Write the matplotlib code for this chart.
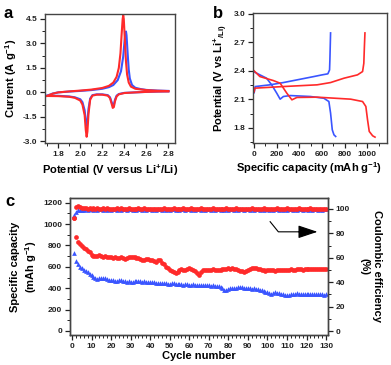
import matplotlib
matplotlib.use("Agg")
import matplotlib.pyplot as plt
from matplotlib.ticker import MultipleLocator
import numpy as np

plt.rcParams['font.family'] = ['Liberation Sans', 'DejaVu Sans']
plt.rcParams['font.weight'] = 'bold'
plt.rcParams['mathtext.fontset'] = 'custom'
plt.rcParams['mathtext.rm'] = 'Liberation Sans:bold'
plt.rcParams['mathtext.it'] = 'Liberation Sans:bold'
plt.rcParams['mathtext.bf'] = 'Liberation Sans:bold'
plt.rcParams['mathtext.default'] = 'rm'

RED = '#ff2a2a'
BLUE = '#3a55ff'

# ---------------- Panel a: CV ----------------
red_an_V = [1.70, 1.75, 1.80, 1.90, 2.00, 2.10, 2.20, 2.26, 2.30, 2.33, 2.35, 2.365, 2.375,
            2.385, 2.39, 2.395, 2.405, 2.415, 2.425, 2.44, 2.46, 2.50, 2.60, 2.70, 2.80]
red_an_I = [-0.22, -0.08, 0.0, 0.06, 0.11, 0.17, 0.27, 0.40, 0.60, 0.95, 1.5, 2.4, 3.5,
            4.5, 4.72, 4.5, 3.2, 1.9, 1.1, 0.6, 0.35, 0.22, 0.14, 0.10, 0.08]
blue_an_V = [1.70, 1.75, 1.80, 1.90, 2.00, 2.10, 2.20, 2.26, 2.30, 2.34, 2.37, 2.39, 2.40,
             2.41, 2.415, 2.42, 2.43, 2.44, 2.45, 2.47, 2.50, 2.55, 2.60, 2.70, 2.80]
blue_an_I = [-0.20, -0.07, 0.0, 0.05, 0.09, 0.14, 0.22, 0.32, 0.45, 0.75, 1.3, 2.2, 3.0,
             3.6, 3.73, 3.5, 2.4, 1.4, 0.85, 0.45, 0.28, 0.20, 0.15, 0.11, 0.09]
cath_V = [2.80, 2.70, 2.60, 2.50, 2.40, 2.35, 2.33, 2.315, 2.305, 2.295, 2.285, 2.27, 2.25,
          2.20, 2.15, 2.11, 2.09, 2.075, 2.065, 2.058, 2.05, 2.04, 2.02, 2.00, 1.95, 1.90,
          1.80, 1.70]
red_cath_I = [0.06, 0.05, 0.03, 0.0, -0.04, -0.12, -0.25, -0.55, -0.9, -0.95, -0.7, -0.35,
              -0.2, -0.14, -0.14, -0.2, -0.45, -1.3, -2.4, -2.72, -2.3, -1.4, -0.75, -0.5,
              -0.33, -0.27, -0.23, -0.22]
blue_cath_I = [0.06, 0.05, 0.03, 0.0, -0.03, -0.1, -0.2, -0.45, -0.75, -0.8, -0.6, -0.3,
               -0.17, -0.12, -0.12, -0.17, -0.38, -1.0, -1.8, -2.05, -1.75, -1.1, -0.6,
               -0.42, -0.3, -0.25, -0.21, -0.2]

# ---------------- Panel b: charge/discharge ----------------
blue_dis_cap = [0, 51, 110, 155, 200, 230, 259, 319, 497, 616, 661, 676, 691, 706, 721]
blue_dis_V = [2.39, 2.358, 2.323, 2.253, 2.165, 2.102, 2.13, 2.14, 2.13, 2.112, 2.077,
              1.955, 1.779, 1.726, 1.709]
blue_ch_cap = [0, 10, 140, 259, 408, 527, 601, 652, 667, 670, 676]
blue_ch_V = [2.17, 2.235, 2.253, 2.277, 2.312, 2.34, 2.358, 2.369, 2.41, 2.516, 2.80]
red_dis_cap = [0, 51, 170, 230, 289, 334, 378, 557, 854, 959, 988, 1003, 1018, 1048, 1069]
red_dis_V = [2.40, 2.34, 2.298, 2.27, 2.165, 2.095, 2.12, 2.123, 2.102, 2.077, 2.025,
             1.884, 1.762, 1.716, 1.702]
red_ch_cap = [0, 6, 259, 557, 676, 795, 914, 959, 970, 975, 980]
red_ch_V = [2.18, 2.218, 2.235, 2.253, 2.277, 2.323, 2.358, 2.393, 2.48, 2.65, 2.80]

# ---------------- Panel c: cycling ----------------
cycles = list(range(1, 131))
red_cap = [1060, 880, 830, 812, 795, 780, 765, 750, 735, 712,
           700, 698, 705, 708, 700, 692, 702, 695, 688, 692,
           685, 690, 684, 680, 688, 682, 676, 684, 690, 693,
           688, 692, 685, 678, 672, 668, 662, 670, 675, 668,
           660, 655, 648, 665, 660, 640, 622, 600, 585, 572,
           560, 548, 540, 552, 570, 578, 568, 572, 580, 585,
           578, 570, 560, 538, 525, 555, 568, 572, 570, 566,
           572, 575, 570, 568, 572, 574, 578, 582, 578, 585,
           580, 588, 582, 575, 572, 565, 560, 552, 565, 572,
           580, 588, 592, 585, 580, 576, 572, 568, 565, 568,
           570, 572, 568, 565, 570, 572, 568, 570, 572, 568,
           572, 575, 570, 572, 575, 578, 575, 572, 576, 578,
           580, 576, 578, 580, 582, 578, 580, 582, 580, 578]
blue_cap = [730, 650, 622, 603, 585, 570, 560, 548, 535, 522,
            508, 495, 488, 492, 498, 500, 495, 488, 480, 476,
            472, 470, 468, 472, 474, 470, 466, 462, 464, 458,
            462, 466, 470, 468, 464, 462, 466, 462, 458, 455,
            458, 454, 450, 452, 450, 446, 444, 446, 442, 440,
            444, 446, 442, 438, 440, 436, 434, 438, 436, 432,
            434, 436, 432, 428, 430, 432, 428, 426, 430, 428,
            424, 426, 422, 420, 418, 410, 398, 385, 382, 390,
            398, 402, 400, 404, 408, 412, 410, 406, 400, 398,
            402, 396, 398, 392, 388, 385, 380, 372, 365, 360,
            354, 350, 356, 360, 356, 352, 348, 342, 336, 334,
            338, 342, 346, 350, 352, 350, 348, 346, 348, 350,
            346, 344, 345, 346, 344, 342, 344, 342, 340, 342]
red_ce = [93.0, 102.0, 102.3, 101.8, 101.2, 100.8, 100.6, 100.4, 100.7, 100.3,
          100.5, 100.2, 100.6, 100.4, 100.1, 100.5, 100.3, 100.7, 100.2, 100.4,
          100.0, 100.3, 100.6, 100.2, 100.5, 100.1, 100.4, 100.3, 100.7, 100.2,
          100.4, 100.0, 100.3, 100.5, 100.1, 100.4, 100.6, 100.2, 100.3, 100.0,
          99.8, 99.6, 100.2, 100.4, 100.1, 100.3, 100.5, 100.2, 100.4, 100.1,
          100.3, 100.6, 100.2, 100.4, 100.0, 100.3, 100.5, 100.1, 100.4, 100.2,
          100.6, 100.3, 100.1, 100.4, 100.2, 100.5, 100.3, 100.1, 100.4, 100.2,
          100.3, 100.5, 100.1, 100.3, 100.4, 100.2, 100.0, 100.3, 100.5, 100.2,
          100.4, 100.1, 100.3, 100.5, 100.2, 100.4, 100.0, 100.3, 100.1, 100.4,
          100.2, 100.5, 100.3, 100.1, 100.4, 100.2, 100.3, 100.5, 100.1, 100.3,
          100.4, 100.2, 100.0, 100.3, 100.5, 100.2, 100.4, 100.1, 100.3, 100.5,
          100.2, 100.4, 100.1, 100.3, 100.2, 100.5, 100.3, 100.1, 100.4, 100.2,
          100.3, 100.5, 100.1, 100.3, 100.4, 100.2, 100.3, 100.1, 100.4, 100.3]
blue_ce = [95.0, 97.8, 99.0, 99.3, 99.5, 99.4, 99.7, 99.5, 99.8, 99.6,
           99.4, 99.7, 99.5, 99.9, 99.6, 99.3, 99.7, 99.5, 99.8, 99.4,
           99.6, 99.9, 99.5, 99.7, 99.3, 99.6, 99.8, 99.5, 100.2, 99.6,
           99.4, 99.7, 99.5, 99.8, 99.6, 99.3, 99.7, 99.5, 99.9, 99.6,
           99.4, 99.7, 99.5, 99.8, 99.6, 99.3, 99.7, 99.5, 99.8, 99.4,
           99.6, 99.9, 99.5, 99.7, 99.3, 99.6, 99.8, 99.5, 99.7, 99.6,
           99.4, 99.7, 99.5, 99.8, 99.6, 99.3, 99.7, 99.5, 99.9, 99.6,
           99.4, 99.7, 99.5, 99.8, 99.6, 99.3, 99.7, 99.5, 99.8, 99.4,
           99.6, 99.9, 99.5, 99.7, 99.3, 99.6, 99.8, 99.5, 99.7, 99.6,
           99.4, 99.7, 99.5, 99.8, 99.6, 99.3, 99.7, 99.5, 99.9, 99.6,
           99.4, 99.7, 99.5, 99.8, 99.6, 99.3, 99.7, 99.5, 99.8, 99.4,
           99.6, 99.9, 99.5, 99.7, 99.3, 99.6, 99.8, 99.5, 99.7, 99.6,
           99.4, 99.7, 99.5, 99.8, 99.6, 99.3, 99.7, 99.5, 99.8, 99.6]

TICK_FS = 6
LAB_FS = 8
SPINE_C = '#444444'


def style_axes(ax):
    for s in ax.spines.values():
        s.set_color(SPINE_C)
        s.set_linewidth(1.0)
    ax.tick_params(which='major', direction='out', length=3.5, width=0.9,
                   labelsize=TICK_FS, pad=2, colors='#222222')
    ax.tick_params(which='minor', direction='out', length=2, width=0.7, colors='#222222')
    for lbl in ax.get_xticklabels() + ax.get_yticklabels():
        lbl.set_fontweight('bold')


fig = plt.figure(figsize=(3.91, 3.65), dpi=100)

# Panel a
axa = fig.add_axes([45/391, 1-143/365, 130/391, 129/365])
axa.plot(blue_an_V, blue_an_I, color=BLUE, lw=1.5)
axa.plot(cath_V, blue_cath_I, color=BLUE, lw=1.5)
axa.plot(red_an_V, red_an_I, color=RED, lw=1.5)
axa.plot(cath_V, red_cath_I, color=RED, lw=1.5)
axa.set_xlim(1.68, 2.86)
axa.set_ylim(-3.1, 4.8)
axa.xaxis.set_minor_locator(MultipleLocator(0.1))
axa.yaxis.set_minor_locator(MultipleLocator(0.75))
axa.set_xticks(np.arange(1.8, 2.81, 0.2))
axa.set_xticklabels(['1.8', '2.0', '2.2', '2.4', '2.6', '2.8'])
axa.set_yticks([-3.0, -1.5, 0.0, 1.5, 3.0, 4.5])
axa.set_yticklabels(['-3.0', '-1.5', '0.0', '1.5', '3.0', '4.5'])
style_axes(axa)
axa.set_xlabel(r'Potential (V versus Li$^{+}$/Li)', fontsize=LAB_FS, fontweight='bold', labelpad=4)
axa.set_ylabel(r'Current (A g$^{-1}$)', fontsize=LAB_FS, fontweight='bold', labelpad=3)

# Panel b
axb = fig.add_axes([253/391, 1-143/365, 134/391, 130/365])
axb.plot(blue_dis_cap, blue_dis_V, color=BLUE, lw=1.2)
axb.plot(blue_ch_cap, blue_ch_V, color=BLUE, lw=1.2)
axb.plot(red_dis_cap, red_dis_V, color=RED, lw=1.2)
axb.plot(red_ch_cap, red_ch_V, color=RED, lw=1.2)
axb.set_xlim(-10, 1175)
axb.set_ylim(1.64, 3.01)
axb.set_xticks([0, 200, 400, 600, 800, 1000])
axb.xaxis.set_minor_locator(MultipleLocator(100))
axb.set_yticks([1.8, 2.1, 2.4, 2.7, 3.0])
axb.set_yticklabels(['1.8', '2.1', '2.4', '2.7', '3.0'])
axb.yaxis.set_minor_locator(MultipleLocator(0.15))
style_axes(axb)
axb.set_xlabel(r'Specific capacity (mAh g$^{-1}$)', fontsize=LAB_FS, fontweight='bold')
axb.xaxis.set_label_coords(0.42, -0.135)
axb.set_ylabel(r'Potential (V vs Li$^{+}$$_{/Li)}$', fontsize=LAB_FS, fontweight='bold', labelpad=3)

# Panel c
axc = fig.add_axes([70/391, 1-335/365, 258/391, 137/365])
axc2 = axc.twinx()
axc.plot(cycles, blue_cap, linestyle='none', marker='^', ms=3.4, color=BLUE, mec=BLUE, mew=0)
axc.plot(cycles, red_cap, linestyle='none', marker='o', ms=3.4, color=RED, mec=RED, mew=0)
axc2.plot(cycles, blue_ce, linestyle='none', marker='^', ms=3.4, color=BLUE, mec=BLUE, mew=0)
axc2.plot(cycles, red_ce, linestyle='none', marker='o', ms=3.4, color=RED, mec=RED, mew=0)
axc.set_xlim(-1, 131)
axc.set_ylim(-38, 1244)
axc2.set_ylim(-3.2, 109)
axc.set_xticks(np.arange(0, 131, 10))
axc.xaxis.set_minor_locator(MultipleLocator(2))
axc.set_yticks(np.arange(0, 1201, 200))
axc.yaxis.set_minor_locator(MultipleLocator(100))
axc2.set_yticks(np.arange(0, 101, 20))
axc2.yaxis.set_minor_locator(MultipleLocator(10))
style_axes(axc)
style_axes(axc2)
axc.set_xlabel('Cycle number', fontsize=LAB_FS, fontweight='bold', labelpad=1)
axc.set_ylabel('Specific capacity\n' + r'(mAh g$^{-1}$)', fontsize=LAB_FS,
               fontweight='bold', labelpad=3, linespacing=1.3)
axc2.set_ylabel('Coulombic efficiency\n(%)', fontsize=LAB_FS, fontweight='bold',
                rotation=270, labelpad=23, linespacing=1.3)

# arrow pointing to right axis
axc2.plot([101.4, 105.6, 118.0], [89.6, 81.3, 81.3], color='black', lw=0.8)
axc2.annotate('', xy=(125.6, 81.3), xytext=(116.0, 81.3),
              arrowprops=dict(arrowstyle='-|>,head_length=1.2,head_width=0.4',
                              color='black', lw=0.8, shrinkA=0, shrinkB=0))

# panel letters
fig.text(3/391, 1-18/365, 'a', fontsize=12, fontweight='bold')
fig.text(213/391, 1-18/365, 'b', fontsize=12, fontweight='bold')
fig.text(5/391, 1-206/365, 'c', fontsize=12, fontweight='bold')

fig.savefig('out.png', dpi=100)
